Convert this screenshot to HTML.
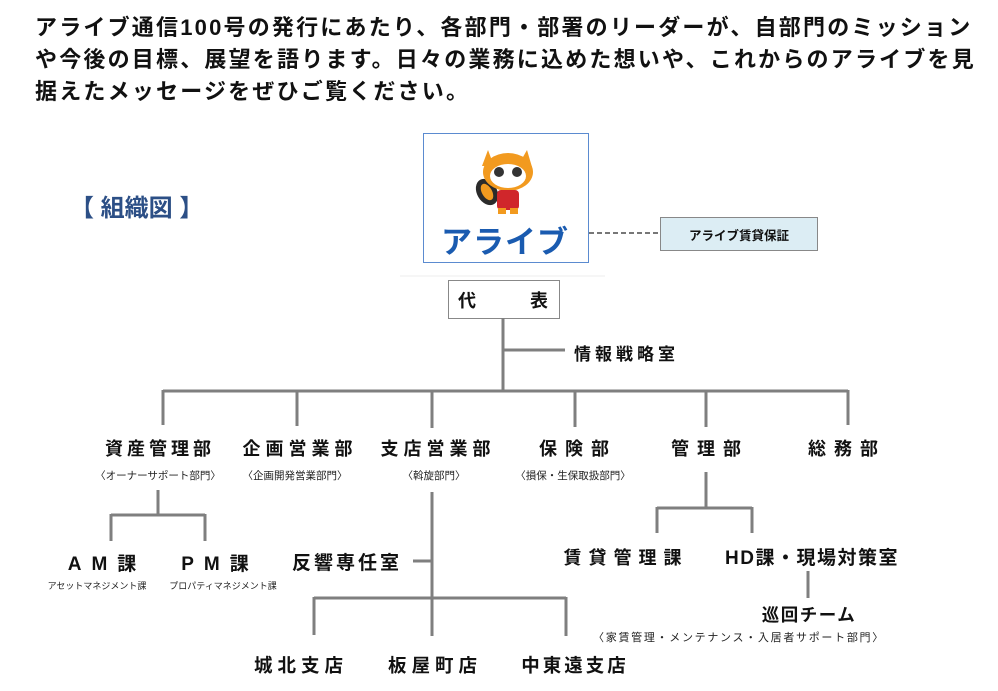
<!DOCTYPE html>
<html><head><meta charset="utf-8"><style>
body{margin:0;width:998px;height:691px;background:#fff;position:relative;overflow:hidden;font-family:"Liberation Sans","Noto Sans CJK JP",sans-serif;}
.t{position:absolute;white-space:nowrap;font-weight:bold;color:#111;}
.c{transform:translateX(-50%);}
.h{font-size:22px;left:35px;letter-spacing:2.2px;}
.d{font-size:18px;letter-spacing:5px;}
.s{font-size:10.5px;font-weight:normal;color:#222;}
svg{position:absolute;left:0;top:0}
</style></head><body>
<div class="t h" style="top:10px">アライブ通信100号の発行にあたり、各部門・部署のリーダーが、自部門のミッション</div>
<div class="t h" style="top:42px">や今後の目標、展望を語ります。日々の業務に込めた想いや、これからのアライブを見</div>
<div class="t h" style="top:74px">据えたメッセージをぜひご覧ください。</div>
<div class="t" style="left:70px;top:188px;font-size:24px;color:#2c4f86">【 組織図 】</div>

<svg width="998" height="691">
<rect x="423.5" y="133.5" width="165" height="129" fill="#fff" stroke="#5b8bd0" stroke-width="1"/>
<g>
<ellipse cx="487" cy="192" rx="10" ry="14" fill="#2b2b2b" transform="rotate(-30 487 192)"/>
<ellipse cx="487" cy="192" rx="5" ry="9" fill="#f29a1f" transform="rotate(-30 487 192)"/>
<path d="M488 150 L494 166 L482 166Z" fill="#f29a1f"/>
<path d="M527 150 L532 167 L519 164Z" fill="#f29a1f"/>
<ellipse cx="508" cy="172" rx="25" ry="19" fill="#f29a1f"/>
<ellipse cx="508" cy="176" rx="18" ry="12" fill="#fff"/>
<ellipse cx="499" cy="172" rx="5" ry="5" fill="#333"/>
<ellipse cx="517" cy="172" rx="5" ry="5" fill="#333"/>
<rect x="497" y="190" width="22" height="20" rx="4" fill="#d0262b"/>
<rect x="498" y="208" width="8" height="6" fill="#f29a1f"/>
<rect x="510" y="208" width="8" height="6" fill="#f29a1f"/>
</g>
<line x1="589" y1="233" x2="660" y2="233" stroke="#777" stroke-width="2" stroke-dasharray="5,3"/>
<rect x="660.5" y="217.5" width="157" height="33" fill="#dcedf4" stroke="#888"/>
<line x1="400" y1="276" x2="605" y2="276" stroke="#eee" stroke-width="1"/>
<rect x="448.5" y="280.5" width="111" height="38" fill="#fff" stroke="#888"/>
<g stroke="#7f7f7f" stroke-width="3" fill="none">
<line x1="503" y1="318" x2="503" y2="392"/>
<line x1="503" y1="350" x2="565" y2="350"/>
<line x1="163" y1="391" x2="848" y2="391"/>
<line x1="163" y1="390" x2="163" y2="425"/>
<line x1="297" y1="390" x2="297" y2="426"/>
<line x1="432" y1="390" x2="432" y2="428"/>
<line x1="575" y1="390" x2="575" y2="427"/>
<line x1="706" y1="390" x2="706" y2="427"/>
<line x1="848" y1="390" x2="848" y2="425"/>
<line x1="158" y1="490" x2="158" y2="515"/>
<line x1="111" y1="515" x2="205" y2="515"/>
<line x1="111" y1="514" x2="111" y2="541"/>
<line x1="205" y1="514" x2="205" y2="541"/>
<line x1="432" y1="492" x2="432" y2="636"/>
<line x1="413" y1="561" x2="432" y2="561"/>
<line x1="314" y1="598" x2="566" y2="598"/>
<line x1="314" y1="597" x2="314" y2="635"/>
<line x1="566" y1="597" x2="566" y2="636"/>
<line x1="706" y1="472" x2="706" y2="508"/>
<line x1="657" y1="508" x2="752" y2="508"/>
<line x1="657" y1="507" x2="657" y2="533"/>
<line x1="752" y1="507" x2="752" y2="533"/>
<line x1="808" y1="571" x2="808" y2="598"/>
</g>
</svg>
<div class="t" style="left:441px;top:217px;font-size:31px;color:#1a5bb0;letter-spacing:1px;font-weight:bold">アライブ</div>
<div class="t c" style="left:739px;top:225px;font-size:12.5px">アライブ賃貸保証</div>
<div class="t" style="left:458px;top:287px;font-size:18px">代</div>
<div class="t" style="left:530px;top:287px;font-size:18px">表</div>
<div class="t" style="left:574px;top:340px;font-size:17px;letter-spacing:4px">情報戦略室</div>

<div class="t d c" style="left:160px;top:435px;letter-spacing:4px">資産管理部</div>
<div class="t d c" style="left:300px;top:435px">企画営業部</div>
<div class="t d c" style="left:438px;top:435px">支店営業部</div>
<div class="t d c" style="left:578px;top:435px;letter-spacing:8px">保険部</div>
<div class="t d c" style="left:710px;top:435px;letter-spacing:8px">管理部</div>
<div class="t d c" style="left:847px;top:435px;letter-spacing:8px">総務部</div>
<div class="t s c" style="left:158px;top:468px">〈オーナーサポート部門〉</div>
<div class="t s c" style="left:295px;top:468px">〈企画開発営業部門〉</div>
<div class="t s c" style="left:434px;top:468px">〈斡旋部門〉</div>
<div class="t s c" style="left:573px;top:468px">〈損保・生保取扱部門〉</div>

<div class="t d c" style="left:107px;top:549px;letter-spacing:10px;font-size:19px">AM課</div>
<div class="t d c" style="left:220px;top:549px;letter-spacing:10px;font-size:19px">PM課</div>
<div class="t s c" style="left:97px;top:579px;font-size:9px">アセットマネジメント課</div>
<div class="t s c" style="left:223px;top:579px;font-size:9px">プロパティマネジメント課</div>
<div class="t d" style="left:292px;top:548px;letter-spacing:3px;font-size:19px">反響専任室</div>

<div class="t d c" style="left:301px;top:652px;font-size:18.5px">城北支店</div>
<div class="t d c" style="left:435px;top:652px;font-size:18.5px">板屋町店</div>
<div class="t d c" style="left:575px;top:652px;font-size:18.5px;letter-spacing:3px">中東遠支店</div>

<div class="t d c" style="left:626px;top:544px;letter-spacing:7px">賃貸管理課</div>
<div class="t d c" style="left:812px;top:543px;letter-spacing:1.5px;font-size:19px">HD課・現場対策室</div>
<div class="t c" style="left:809px;top:602px;font-size:17.5px;letter-spacing:1.5px">巡回チーム</div>
<div class="t s c" style="left:739px;top:629px;font-size:11px;letter-spacing:1.7px">〈家賃管理・メンテナンス・入居者サポート部門〉</div>
</body></html>
